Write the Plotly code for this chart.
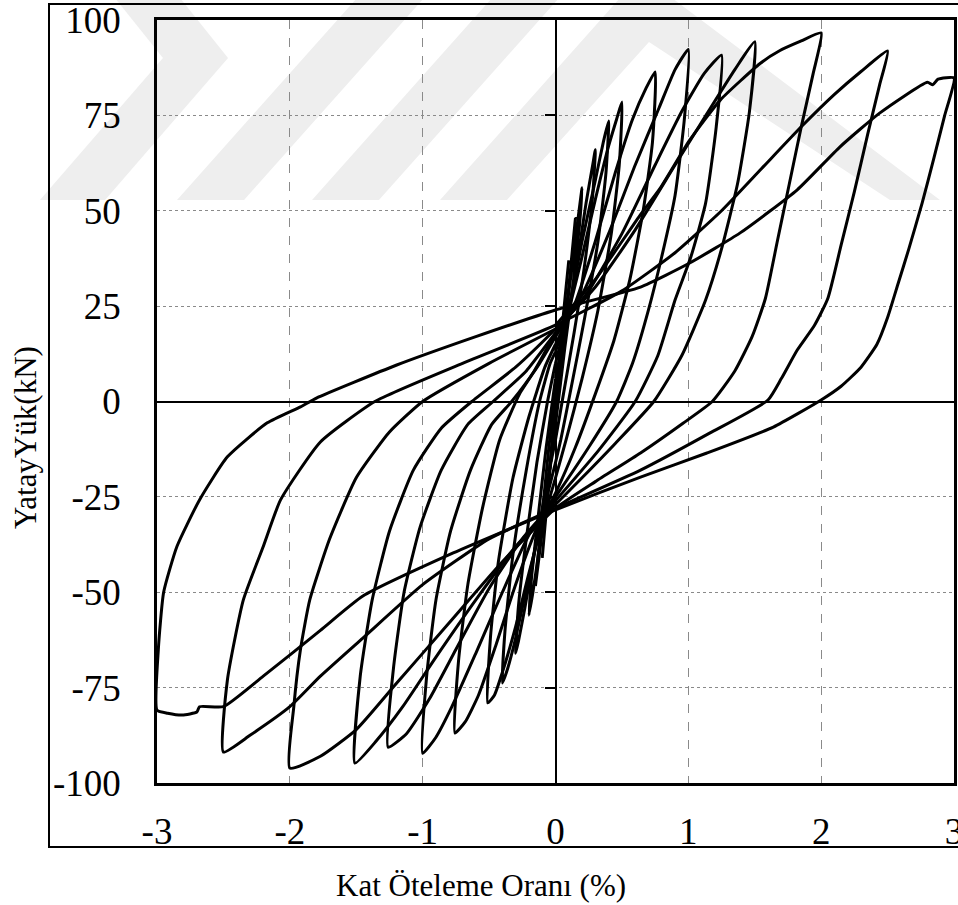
import plotly.graph_objects as go

# Story drift ratio (%) and lateral load (kN) for each loading cycle
d_010 = [0.00, 0.03, 0.06, 0.10, 0.08, 0.05, 0.02, 0.00, -0.03, -0.06, -0.10, -0.08, -0.05, -0.02, 0.00]
f_010 = [0.0, 11, 23, 37, 30, 19, 8, 0, -12, -25, -41, -33, -21, -9, -2]

d_015 = [0.00, 0.05, 0.10, 0.15, 0.13, 0.09, 0.05, 0.00, -0.05, -0.10, -0.15, -0.13, -0.09, -0.05, 0.00]
f_015 = [-2, 14, 30, 48, 40, 26, 12, -4, -20, -34, -48, -40, -26, -12, 3]

d_020 = [0.00, 0.06, 0.12, 0.17, 0.20, 0.18, 0.13, 0.07, 0.00, -0.06, -0.12, -0.17, -0.20, -0.18, -0.13, -0.07, 0.00]
f_020 = [3, 18, 34, 48, 56, 46, 30, 14, -6, -22, -38, -50, -56, -46, -30, -12, 6]

d_030 = [0.00, 0.08, 0.16, 0.23, 0.28, 0.30, 0.28, 0.22, 0.14, 0.06, 0.00, -0.08, -0.16, -0.23, -0.28, -0.30, -0.28, -0.22, -0.14, -0.06, 0.00]
f_030 = [6, 20, 36, 52, 62, 66, 54, 36, 18, 2, -10, -24, -40, -54, -63, -66, -54, -36, -16, 0, 10]

d_040 = [0.00, 0.10, 0.20, 0.30, 0.36, 0.40, 0.38, 0.32, 0.22, 0.12, 0.04, 0.00, -0.10, -0.20, -0.30, -0.36, -0.40, -0.38, -0.32, -0.22, -0.12, -0.04, 0.00]
f_040 = [10, 24, 42, 58, 68, 73.5, 60, 42, 22, 4, -10, -16, -30, -46, -62, -70, -73.8, -60, -40, -18, 0, 10, 13]

d_050 = [0.00, 0.10, 0.20, 0.30, 0.40, 0.46, 0.50, 0.48, 0.42, 0.32, 0.20, 0.08, 0.00, -0.10, -0.20, -0.30, -0.40, -0.46, -0.51, -0.49, -0.43, -0.32, -0.20, -0.08, 0.00]
f_050 = [13, 24, 38, 53, 67, 74, 78.5, 62, 44, 24, 6, -10, -20, -32, -45, -59, -71, -77, -79, -62, -42, -20, -4, 9, 15]

d_075 = [0.00, 0.15, 0.30, 0.45, 0.58, 0.68, 0.75, 0.73, 0.66, 0.56, 0.44, 0.30, 0.15, 0.00, -0.15, -0.30, -0.45, -0.58, -0.68, -0.757, -0.73, -0.66, -0.55, -0.42, -0.27, -0.12, 0.00]
f_075 = [15, 26, 42, 60, 74, 82, 86.4, 68, 50, 32, 16, 2, -12, -24, -34, -48, -64, -77, -84, -86.9, -68, -48, -28, -10, 2, 10, 17]

d_100 = [0.00, 0.20, 0.40, 0.60, 0.78, 0.90, 1.00, 0.97, 0.90, 0.80, 0.70, 0.58, 0.46, 0.25, 0.00, -0.20, -0.40, -0.60, -0.78, -0.90, -1.00, -0.97, -0.90, -0.79, -0.64, -0.48, -0.33, -0.16, 0.00]
f_100 = [17, 28, 44, 62, 77, 87, 92.3, 74, 54, 38, 24, 10, 0, -12, -25, -35, -50, -66, -80, -88, -92.2, -72, -52, -34, -18, -6, 0, 8, 18]

d_125 = [0.00, 0.25, 0.50, 0.75, 0.95, 1.12, 1.25, 1.21, 1.13, 1.02, 0.90, 0.77, 0.60, 0.32, 0.00, -0.25, -0.50, -0.75, -0.95, -1.12, -1.26, -1.22, -1.14, -1.02, -0.86, -0.66, -0.47, -0.22, 0.00]
f_125 = [18, 29, 44, 62, 76, 86, 90.8, 72, 52, 38, 26.6, 12, 0, -13, -26, -36, -49, -65, -78, -87, -90.6, -70, -50, -33, -18, -6, 0, 8, 18]

d_150 = [0.00, 0.30, 0.60, 0.90, 1.15, 1.35, 1.50, 1.46, 1.37, 1.25, 1.13, 0.95, 0.74, 0.45, 0.20, 0.00, -0.30, -0.60, -0.90, -1.15, -1.35, -1.51, -1.47, -1.38, -1.25, -1.07, -0.86, -0.63, -0.30, 0.00]
f_150 = [19, 30, 45, 62, 76, 87, 94.3, 76, 57, 40, 26.6, 12, 0, -11, -20, -27, -38, -52, -67, -80, -89, -94.8, -72, -52, -34, -18, -7, 0, 9, 19]

d_200 = [0.00, 0.30, 0.64, 0.79, 1.01, 1.24, 1.54, 1.69, 1.85, 2.00, 1.94, 1.85, 1.76, 1.67, 1.58, 1.48, 1.35, 1.18, 0.96, 0.64, 0.30, 0.00, -0.40, -0.80, -1.20, -1.50, -1.77, -2.00, -1.97, -1.92, -1.85, -1.70, -1.50, -1.25, -1.00, -0.50, 0.00]
f_200 = [20, 32, 49, 56, 68.5, 79, 88.6, 92, 94.5, 96.6, 86, 72, 57, 42, 27, 17, 8, 0, -5.7, -13.5, -21, -28, -42, -58, -74, -86, -93, -96.1, -80, -65, -52, -36, -20, -8, 0, 10, 19]

d_250 = [0.00, 0.50, 0.90, 1.25, 1.55, 1.85, 2.10, 2.30, 2.50, 2.44, 2.35, 2.25, 2.15, 2.05, 1.95, 1.82, 1.70, 1.60, 1.16, 0.64, 0.00, -0.50, -1.00, -1.45, -1.77, -2.00, -2.30, -2.50, -2.47, -2.35, -2.20, -2.07, -1.77, -1.36, -0.70, 0.00]
f_250 = [20, 29, 39, 50, 61, 72, 80.5, 86.5, 91.9, 83, 70, 55, 41, 27, 20, 13.5, 6, 0.4, -8.3, -18, -28, -36, -48, -62, -72, -80, -87.5, -91.9, -73, -52, -38, -25.8, -10.6, 0, 10, 20]

d_300 = [0.00, 0.64, 1.01, 1.39, 1.82, 2.14, 2.44, 2.80, 2.84, 2.88, 3.00, 2.93, 2.85, 2.76, 2.66, 2.58, 2.50, 2.42, 2.30, 2.15, 2.00, 1.64, 1.14, 0.64, 0.00, -0.77, -1.45, -1.77, -2.20, -2.50, -2.68, -2.70, -2.81, -2.92, -3.00, -2.99, -2.95, -2.85, -2.68, -2.47, -2.17, -1.92, -1.80, -1.20, -0.60, 0.00]
f_300 = [24, 30, 36.3, 44.2, 55.5, 66.7, 75.6, 83.7, 83.0, 84.5, 84.8, 75, 64, 52, 40, 31, 22, 15, 9, 4, 0.4, -6.7, -13.5, -19.8, -28.4, -39.7, -51, -60, -72, -80, -80, -81.4, -82.2, -81.7, -80.9, -65, -50, -38, -25.8, -14.5, -5.6, -1.4, 0.9, 9.5, 17, 24]

cycles = [
    (d_010, f_010), (d_015, f_015), (d_020, f_020), (d_030, f_030),
    (d_040, f_040), (d_050, f_050), (d_075, f_075), (d_100, f_100),
    (d_125, f_125), (d_150, f_150), (d_200, f_200), (d_250, f_250),
    (d_300, f_300),
]

x_ticks = [-3, -2, -1, 0, 1, 2, 3]
x_tick_text = ["-3", "-2", "-1", "0", "1", "2", "3"]
y_ticks = [-100, -75, -50, -25, 0, 25, 50, 75, 100]
y_tick_text = ["-100", "-75", "-50", "-25", "0", "25", "50", "75", "100"]
y_inner_ticks = [-75, -50, -25, 25, 50, 75]

SERIF = "Liberation Serif, Times New Roman, serif"

fig = go.Figure()
for d, f in cycles:
    fig.add_trace(go.Scatter(
        x=d, y=f, mode="lines",
        line=dict(color="black", width=3, shape="spline", smoothing=0.5),
        hoverinfo="skip", showlegend=False,
    ))

# carrier for the short tick marks drawn on the vertical zero line
fig.add_trace(go.Scatter(x=[None], y=[None], yaxis="y2", showlegend=False, hoverinfo="skip"))

# plot area in pixels: left 157, right 954, top 20, bottom 783
L, R, T, B = 157, 954, 20, 783


def px(x, y):
    return (x - L) / (R - L), (B - y) / (B - T)


def poly_path(points):
    pts = [px(x, y) for x, y in points]
    return "M " + " L ".join(f"{a:.4f},{b:.4f}" for a, b in pts) + " Z"


# faint background emblem
emblem = [
    [(40, 200), (163, 58), (115, -2), (180, -2), (228, 58), (105, 200)],
    [(177, 200), (357, -2), (424, -2), (244, 200)],
    [(312, 200), (492, -2), (559, -2), (379, 200)],
    [(440, 200), (620, -2), (672, -2), (940, 200), (890, 200), (649, 42), (507, 200)],
]
shapes = []
for poly in emblem:
    shapes.append(dict(type="path", xref="paper", yref="paper", path=poly_path(poly),
                       fillcolor="#eeeeee", line=dict(width=0), layer="below"))

# outer frame
fx0, fy0 = px(49, 847)
fx1, fy1 = px(990, 4)
shapes.append(dict(type="rect", xref="paper", yref="paper", x0=fx0, y0=fy0, x1=fx1, y1=fy1,
                   line=dict(color="black", width=2), fillcolor="rgba(0,0,0,0)", layer="below"))

ax_title_x = px(481, 885)
ay_title = px(25, 438)

fig.update_layout(
    width=958, height=905,
    margin=dict(l=L, r=958 - R, t=T, b=905 - B, autoexpand=False),
    paper_bgcolor="white", plot_bgcolor="rgba(0,0,0,0)",
    font=dict(family=SERIF, color="black"),
    shapes=shapes,
    xaxis=dict(
        range=[-3, 3], tickvals=x_ticks, ticktext=x_tick_text,
        showgrid=True, gridcolor="#8a8a8a", griddash="dash", gridwidth=1,
        zeroline=True, zerolinecolor="black", zerolinewidth=2.2,
        showline=True, linecolor="black", linewidth=2.5, mirror=True,
        ticks="", tickfont=dict(size=37, family=SERIF, color="black"),
        ticklabelstandoff=14, ticklabeloverflow="allow", automargin=False,
    ),
    yaxis=dict(
        range=[-100, 100], tickvals=y_ticks, ticktext=y_tick_text,
        showgrid=True, gridcolor="#8a8a8a", griddash="dot", gridwidth=1,
        zeroline=True, zerolinecolor="black", zerolinewidth=2.2,
        showline=True, linecolor="black", linewidth=2.5, mirror=True,
        ticks="", tickfont=dict(size=37, family=SERIF, color="black"),
        ticklabelstandoff=26, ticklabeloverflow="allow", automargin=False,
    ),
    yaxis2=dict(
        range=[-100, 100], overlaying="y", anchor="free", position=0.5, side="left",
        tickvals=y_inner_ticks, ticks="outside", ticklen=11, tickwidth=2, tickcolor="black",
        showticklabels=False, showgrid=False, zeroline=False, showline=False,
        automargin=False,
    ),
    annotations=[
        dict(text="Kat Öteleme Oranı (%)", xref="paper", yref="paper",
             x=ax_title_x[0], y=ax_title_x[1], xanchor="center", yanchor="middle",
             showarrow=False, font=dict(size=31, family=SERIF, color="black")),
        dict(text="YatayYük(kN)", xref="paper", yref="paper",
             x=ay_title[0], y=ay_title[1], xanchor="center", yanchor="middle",
             textangle=-90, showarrow=False, font=dict(size=31, family=SERIF, color="black")),
    ],
)

fig.write_html("out.html")
